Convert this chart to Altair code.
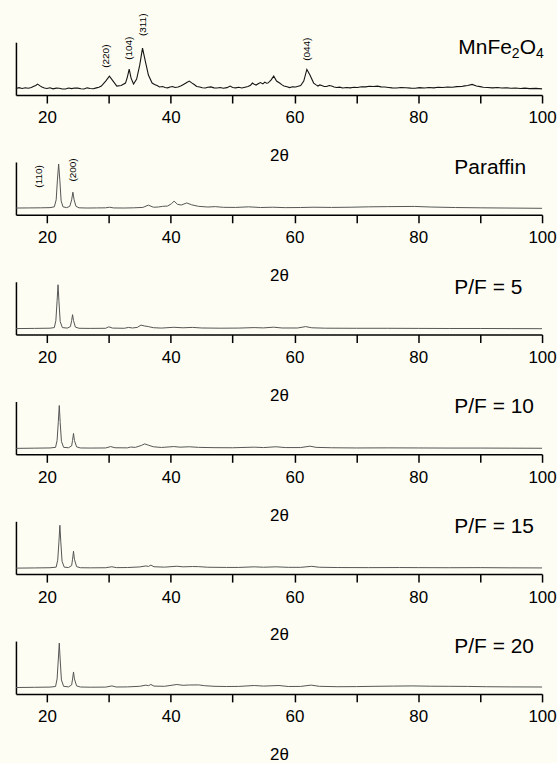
import altair as alt
import pandas as pd

FONT = "Liberation Sans"

# ---- data: (2-theta, intensity in arbitrary units) ----
MNFE2O4 = [(15, 6.5), (15.5, 7.4), (16, 6.6), (16.5, 7.3), (17, 6.8), (17.5, 7.6), (17.8, 8.5), (18.2, 9.6),
           (18.5, 11), (18.9, 9.2), (19.2, 8), (19.6, 7.0), (20, 6.5), (20.5, 7.3), (21, 6.2), (21.5, 6.9),
           (22, 6.8), (22.5, 6.1), (23, 6.0), (23.5, 7.0), (24, 6.4), (24.5, 7.1), (25, 6.9), (25.5, 6.3),
           (26, 6.1), (26.5, 7.2), (27, 6.6), (27.5, 6.3), (28, 7.2), (28.4, 7.9), (28.8, 9),
           (29.5, 14), (30.1, 19), (30.7, 14), (31.3, 9), (32, 9.5), (32.7, 12), (33.0, 18), (33.3, 26),
           (33.6, 17), (34.0, 11), (34.5, 16), (35.0, 30), (35.45, 47), (35.9, 34), (36.4, 20), (37, 12),
           (37.4, 10.6), (37.8, 9.5), (38.2, 8.1), (38.7, 8.5), (39.1, 7.6), (39.5, 7.2), (39.9, 8.1),
           (40.3, 8.6), (40.7, 7.6), (41.2, 8), (41.7, 9.3), (42.2, 11), (42.6, 12.6), (43.0, 14), (43.4, 12.2),
           (43.8, 10.5), (44.2, 8.6), (44.7, 8), (45.1, 7.3), (45.6, 7), (46.0, 7.8), (46.5, 8.2), (47.0, 7.2),
           (47.5, 7), (48.0, 7.6), (48.5, 6.8), (49.1, 7.4), (49.6, 9), (50.0, 7.6), (50.5, 7.2), (51.0, 7.8),
           (51.5, 7), (52.0, 7.9), (52.5, 8.5), (52.9, 9.8), (53.2, 12), (53.5, 10.8), (53.8, 10), (54.2, 11.6),
           (54.5, 12.5), (54.9, 11.2), (55.2, 13), (55.5, 11.8), (55.7, 12), (56.0, 13.6), (56.2, 15),
           (56.65, 19), (57.1, 14), (57.6, 12), (58.0, 10.2), (58.3, 9), (58.8, 8.4), (59.2, 7.5), (59.7, 8.3),
           (60.2, 8), (60.6, 8.8), (61.0, 9.5), (61.5, 14), (62.0, 25.7), (62.5, 20), (63.1, 12), (63.5, 10.2),
           (63.8, 9), (64.1, 10.1), (64.4, 9.5), (64.8, 8.6), (65.2, 8.5), (65.6, 9.6), (66.0, 9), (66.4, 8.1),
           (66.8, 7.5), (67.3, 7.9), (67.8, 7), (68.4, 7.6), (69, 7.2), (69.6, 7.8), (70.2, 7.6), (70.8, 8.3),
           (71.5, 8.2), (72.1, 8.8), (72.8, 8.5), (73.4, 8.9), (74, 8.2), (74.6, 8.0), (75.2, 7.6), (75.8, 7.2),
           (76.5, 7), (77.2, 7.6), (78, 7.3), (78.8, 6.9), (79.5, 6.8), (80.2, 7.4), (81, 7), (81.7, 7.5),
           (82.5, 7.2), (83.2, 7.8), (84, 7.5), (84.7, 8.1), (85.5, 7.8), (86.2, 8.4), (87, 8.5), (87.5, 9.2),
           (88, 9.5), (88.7, 10.7), (89.4, 9), (90.0, 8.4), (90.5, 7.8), (91.2, 7.5), (92, 7.2), (92.8, 7.6),
           (93.5, 7), (94.2, 7.3), (95, 6.8), (95.7, 7.1), (96.5, 6.5), (97.2, 6.9), (98, 6.4), (99, 6.7),
           (100, 6.2)]

PARAFFIN = [(15, 6.8), (17, 6.9), (19, 7.0), (20.5, 7.2), (21.2, 8), (21.5, 15), (21.7, 35), (21.9, 51),
            (22.1, 34), (22.3, 14), (22.6, 8), (23.2, 7.2), (23.7, 8.5), (24.0, 15), (24.2, 22.7), (24.4, 15),
            (24.7, 8.5), (25.2, 7), (26.5, 6.8), (28, 6.9), (29.5, 7), (30.1, 7.6), (30.8, 6.9), (32.5, 6.8),
            (34, 7), (35.5, 7.4), (36.4, 9.7), (37.2, 7.6), (38, 7.8), (38.7, 8.5), (39.5, 8.8), (40.1, 11),
            (40.55, 13.7), (41.1, 10.5), (41.7, 9.8), (42.6, 11.9), (43.4, 10), (44.5, 8.5), (46, 7.8),
            (47.2, 8.2), (48.5, 7.5), (50.5, 7.4), (52.6, 8), (54.5, 7.3), (56.5, 7.6), (58.5, 7.2), (61, 7.3),
            (63, 7.6), (66, 7.4), (69, 7.6), (72, 8), (75, 8.2), (79.4, 8.4), (82, 7.8), (86, 7.3), (90, 7.0),
            (94, 6.8), (100, 6.5)]

PF5 = [(15, 6), (18, 6.2), (20.5, 6.4), (21.2, 7), (21.45, 14), (21.65, 34), (21.8, 50), (21.95, 33),
       (22.15, 13), (22.5, 7), (23.3, 6.5), (23.8, 8), (24.0, 14), (24.15, 20), (24.3, 14), (24.6, 7.5),
       (25.2, 6.3), (27, 6.2), (29.5, 6.3), (30.0, 7.8), (30.6, 6.5), (32.5, 6.3), (33.2, 7.2), (33.8, 6.6),
       (34.6, 7.2), (35.2, 9.5), (35.8, 8.6), (36.4, 8), (37.2, 6.9), (38.5, 6.5), (40.5, 7.3), (42, 6.8),
       (43.5, 7.2), (45, 6.6), (48, 6.4), (51, 6.5), (53.5, 7), (55, 6.7), (56.6, 7.4), (58, 6.6), (60.5, 6.6),
       (61.8, 8), (62.8, 6.8), (65, 6.4), (70, 6.3), (75, 6.3), (80, 6.2), (85, 6.1), (90, 6.1), (95, 6),
       (100, 5.9)]

PF10 = [(15, 6), (18, 6.2), (20.5, 6.4), (21.4, 7), (21.65, 14), (21.85, 33), (22.0, 49), (22.15, 32),
        (22.35, 13), (22.7, 7), (23.5, 6.6), (24.0, 8.5), (24.15, 14), (24.3, 21), (24.45, 14), (24.8, 7.5),
        (25.4, 6.4), (27, 6.3), (29.5, 6.4), (30.3, 7.8), (31, 6.6), (33, 6.5), (33.5, 7.3), (34.3, 7),
        (35.3, 9), (35.8, 10.5), (36.4, 9.2), (37.2, 7.6), (38.5, 6.9), (40.5, 7.8), (41.5, 7.2), (43, 7.6),
        (44.5, 7), (47, 6.7), (50, 6.6), (53.5, 7.2), (55, 6.8), (57, 7.6), (58.5, 6.8), (61, 6.8), (62.5, 8.2),
        (63.5, 7), (66, 6.6), (70, 6.4), (75, 6.5), (80, 6.4), (85, 6.3), (90, 6.3), (95, 6.2), (100, 6.1)]

PF15 = [(15, 6), (18, 6.2), (20.5, 6.4), (21.5, 7), (21.75, 14), (21.95, 33), (22.1, 49), (22.25, 32),
        (22.45, 13), (22.8, 7), (23.5, 6.6), (24.0, 8.5), (24.15, 15), (24.3, 23), (24.45, 15), (24.8, 7.5),
        (25.4, 6.4), (27, 6.3), (29.5, 6.4), (30.5, 7.4), (31.2, 6.5), (33, 6.6), (35, 7.2), (36, 8.2),
        (36.4, 7.7), (36.8, 9), (37.3, 7.4), (39, 7), (41, 7.9), (42, 7.3), (43.5, 7.6), (44.5, 7.5), (46, 6.9),
        (49, 6.7), (51, 6.7), (53.5, 7.3), (55, 6.9), (57, 7.3), (59, 6.8), (61, 6.8), (62.8, 7.8), (64, 6.9),
        (67, 6.6), (72, 6.5), (77, 6.6), (80, 6.5), (85, 6.4), (90, 6.5), (95, 6.3), (100, 6.2)]

PF20 = [(15, 6.4), (18, 6.6), (20.5, 6.8), (21.4, 7.4), (21.65, 15), (21.85, 35), (22.0, 51), (22.15, 34),
        (22.35, 14), (22.7, 7.6), (23.5, 7), (24.0, 9), (24.15, 15), (24.3, 22), (24.45, 15), (24.8, 8),
        (25.4, 6.9), (27, 6.7), (29.5, 6.8), (30.5, 8), (31.2, 6.9), (33, 7), (35, 7.6), (36, 8.8), (36.4, 8.2),
        (36.8, 9.4), (37.3, 7.8), (39, 7.6), (41, 9.4), (42, 8.6), (43, 8.9), (44.5, 9), (45.5, 8.2), (47, 7.6),
        (49, 7.4), (51, 7.5), (53.5, 8.4), (55, 7.8), (57.5, 8.4), (59, 7.4), (61, 7.5), (62.7, 8.8), (64, 7.6),
        (67, 7.2), (70, 7.3), (73, 7.6), (76, 7.8), (79, 8), (82, 7.7), (85, 7.6), (88, 7.5), (91, 7.2),
        (95, 7), (100, 6.9)]

SAMPLE_LABELS = ["MnFe2O4", "Paraffin", "P/F = 5", "P/F = 10", "P/F = 15", "P/F = 20"]
SERIES = [MNFE2O4, PARAFFIN, PF5, PF10, PF15, PF20]

# peak index annotations: (label, 2-theta, height)
ANNOT_MNFE = [("(220)", 29.55, 39), ("(104)", 33.2, 47), ("(311)", 35.45, 70.5), ("(044)", 62.0, 46)]
ANNOT_PARAFFIN = [("(110)", 18.7, 38.5), ("(200)", 24.3, 45)]
ANNOTS = [ANNOT_MNFE, ANNOT_PARAFFIN, [], [], [], []]

X_TICKS = [20, 30, 40, 50, 60, 70, 80, 90, 100]

# ---- layout / style ----
W, H = 528, 53
BG = "#fdfdf3"

xscale = alt.Scale(domain=[15, 100], nice=False, zero=False)
yscale = alt.Scale(domain=[0, H], nice=False, zero=False)
xaxis = alt.Axis(values=X_TICKS, labelExpr="datum.value % 20 == 0 ? datum.label : ''",
                 title="2θ", titleY=61, titleBaseline="middle", titleFontSize=17,
                 titleFontWeight="normal", titleFont=FONT, titleColor="black",
                 labelFont=FONT, labelFontSize=17, labelColor="black", labelPadding=7,
                 labelFlush=False, labelOverlap=False, tickSize=8, tickColor="black",
                 tickWidth=1.5, domainColor="black", domainWidth=1.5, grid=False)
yaxis = alt.Axis(title=None, labels=False, ticks=False, grid=False, domainColor="black",
                 domainWidth=1.5)


def panel(series, label, annots, color, width):
    df = pd.DataFrame(series, columns=["t", "i"])
    line = alt.Chart(df).mark_line(color=color, strokeWidth=width).encode(
        x=alt.X("t:Q", scale=xscale, axis=xaxis),
        y=alt.Y("i:Q", scale=yscale, axis=yaxis),
    )
    layers = [line]
    if label == "MnFe2O4":
        parts = [("MnFe", 444, 6, 21), ("2", 497.7, 12, 14), ("O", 505.5, 6, 21), ("4", 521.8, 12, 14)]
        for txt, px, py, fs in parts:
            layers.append(alt.Chart(pd.DataFrame({"s": [txt]})).mark_text(
                align="left", baseline="middle", font=FONT, fontSize=fs, color="black"
            ).encode(x=alt.value(px), y=alt.value(py), text="s:N"))
    else:
        layers.append(alt.Chart(pd.DataFrame({"s": [label]})).mark_text(
            align="left", baseline="middle", font=FONT, fontSize=21, color="black"
        ).encode(x=alt.value(440), y=alt.value(6), text="s:N"))
    if annots:
        adf = pd.DataFrame(annots, columns=["s", "t", "i"])
        layers.append(alt.Chart(adf).mark_text(
            angle=270, align="center", baseline="middle", font=FONT, fontSize=10, color="black"
        ).encode(x=alt.X("t:Q", scale=xscale), y=alt.Y("i:Q", scale=yscale), text="s:N"))
    return alt.layer(*layers).properties(width=W, height=H)


panels = []
for k, (ser, lab, ann) in enumerate(zip(SERIES, SAMPLE_LABELS, ANNOTS)):
    if k == 0:
        panels.append(panel(ser, lab, ann, "#151515", 1.1))
    else:
        panels.append(panel(ser, lab, ann, "#555555", 1.0))

chart = alt.vconcat(*panels, spacing=67.2, bounds="flush").properties(
    padding={"left": 13, "top": 12, "right": 0, "bottom": 0},
    background=BG,
).configure_view(stroke=None)

chart.save("out.html", embed_options={"renderer": "svg", "actions": False})
